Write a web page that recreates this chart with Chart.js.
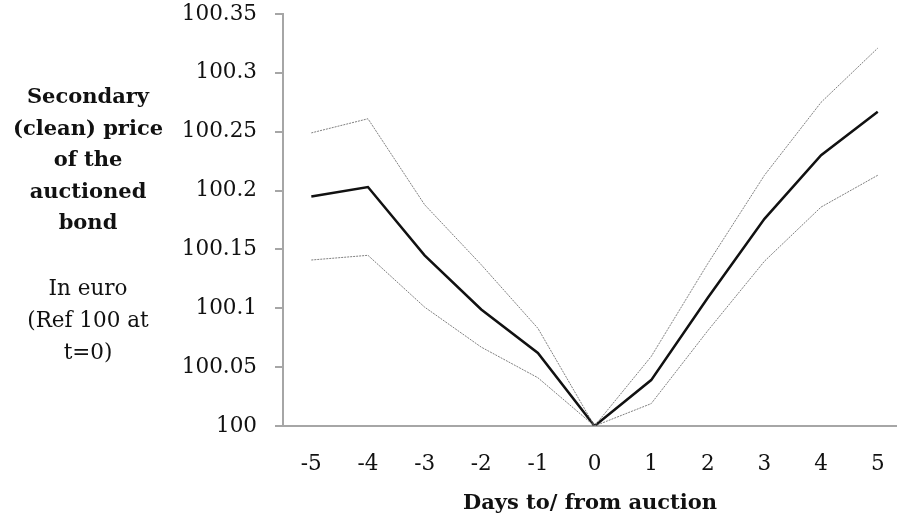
<!DOCTYPE html>
<html>
<head>
<meta charset="utf-8">
<script src="https://cdn.jsdelivr.net/npm/chart.js@4/dist/chart.umd.min.js"></script>
<style>
  html, body { margin: 0; padding: 0; background: #fff; overflow: hidden; }
  .wrap { position: relative; width: 897px; height: 518px; }
  .wrap canvas { position: absolute; left: 0; top: 0; }
  .y-title {
    position: absolute;
    left: 8px;
    width: 160px;
    text-align: center;
    font-family: 'DejaVu Serif', serif;
    color: #111;
  }
  .y-title.main { top: 80px; font-size: 21px; font-weight: bold; line-height: 31.5px; }
  .y-title.unit { top: 272px; font-size: 21.5px; line-height: 32px; }
</style>
</head>
<body>
<div class="wrap">
  <canvas id="chart" width="897" height="518"></canvas>
  <div class="y-title main">Secondary<br>(clean) price<br>of the<br>auctioned<br>bond</div>
  <div class="y-title unit">In euro<br>(Ref 100 at<br>t=0)</div>
</div>
<script>
// Secondary price of the auctioned bond around the auction day

const days = [-5, -4, -3, -2, -1, 0, 1, 2, 3, 4, 5];
const priceMean = [100.195, 100.203, 100.145, 100.099, 100.062, 100, 100.039, 100.109, 100.176, 100.230, 100.267];
const priceUpper = [100.249, 100.261, 100.188, 100.137, 100.083, 100, 100.059, 100.138, 100.213, 100.275, 100.321];
const priceLower = [100.141, 100.145, 100.101, 100.067, 100.041, 100, 100.019, 100.081, 100.140, 100.186, 100.213];

const yTicks = [100, 100.05, 100.1, 100.15, 100.2, 100.25, 100.3, 100.35];
const yTickLabels = ['100', '100.05', '100.1', '100.15', '100.2', '100.25', '100.3', '100.35'];

const FONT = "'DejaVu Serif', serif";
const AXIS_GREY = '#a6a6a6';

function toPoints(values) {
  return days.map((d, i) => ({ x: d, y: values[i] }));
}

const ctx = document.getElementById('chart');

new Chart(ctx, {
  type: 'line',
  data: {
    datasets: [
      {
        label: 'Upper',
        data: toPoints(priceUpper),
        borderColor: '#7f7f7f',
        borderWidth: 1,
        borderDash: [2, 1],
        pointRadius: 0,
        tension: 0,
      },
      {
        label: 'Lower',
        data: toPoints(priceLower),
        borderColor: '#7f7f7f',
        borderWidth: 1,
        borderDash: [2, 1],
        pointRadius: 0,
        tension: 0,
      },
      {
        label: 'Mean',
        data: toPoints(priceMean),
        borderColor: '#111111',
        borderWidth: 2.5,
        pointRadius: 0,
        tension: 0,
      },
    ],
  },
  options: {
    responsive: false,
    animation: false,
    layout: {
      padding: { top: 14, right: 0, bottom: 0, left: 0 },
    },
    plugins: {
      legend: { display: false },
      tooltip: { enabled: false },
    },
    scales: {
      x: {
        type: 'linear',
        min: -5.5,
        max: 5.34,
        afterBuildTicks: (scale) => {
          scale.ticks = days.map((d) => ({ value: d }));
        },
        afterFit: (scale) => {
          scale.height = 92;
          scale.paddingLeft = 0;
          scale.paddingRight = 0;
        },
        grid: { display: false, drawTicks: false },
        border: { display: true, color: AXIS_GREY, width: 2 },
        ticks: {
          color: '#111',
          padding: 26,
          maxRotation: 0,
          font: { family: FONT, size: 21.5 },
          callback: (value) => String(value),
        },
        title: {
          display: true,
          text: 'Days to/ from auction',
          color: '#111',
          padding: { top: 2, bottom: 2 },
          font: { family: FONT, size: 21, weight: 'bold' },
        },
      },
      y: {
        min: 100,
        max: 100.35,
        afterBuildTicks: (scale) => {
          scale.ticks = yTicks.map((v) => ({ value: v }));
        },
        afterFit: (scale) => {
          scale.width = 283;
          scale.paddingTop = 0;
          scale.paddingBottom = 0;
        },
        grid: {
          drawOnChartArea: false,
          drawTicks: true,
          tickLength: 8,
          color: AXIS_GREY,
          lineWidth: 2,
        },
        border: { display: true, color: AXIS_GREY, width: 2 },
        ticks: {
          color: '#111',
          padding: 18,
          font: { family: FONT, size: 21.5 },
          callback: (value, index) => yTickLabels[index],
        },
      },
    },
  },
});
</script>
</body>
</html>
